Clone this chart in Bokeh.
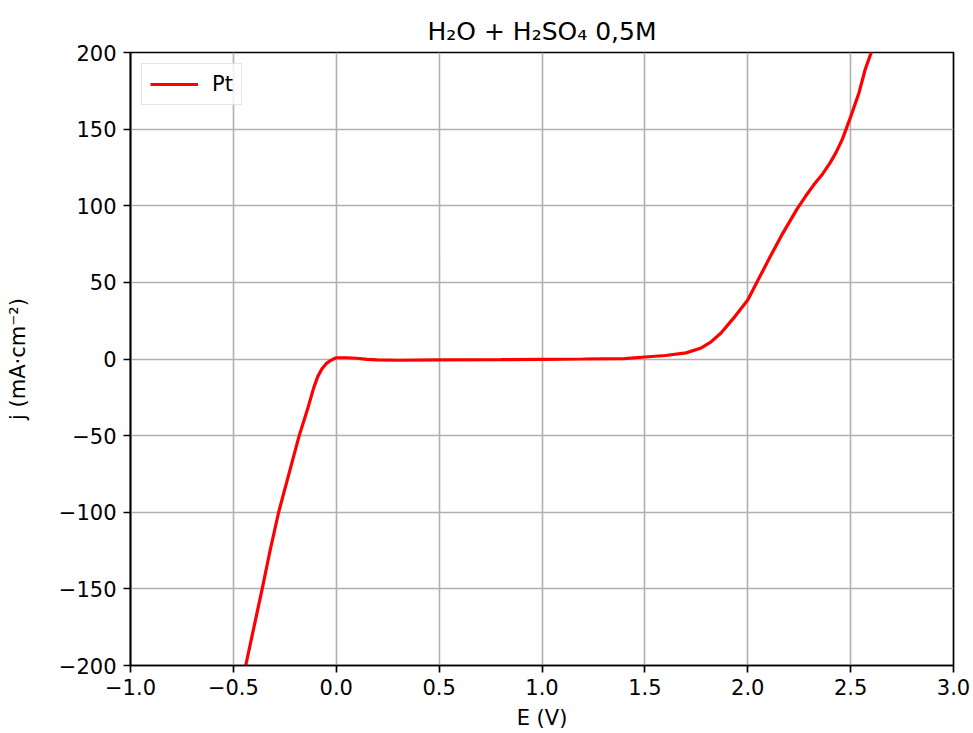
from bokeh.plotting import figure
from bokeh.models import FixedTicker, Range1d, Legend, LegendItem, Title
from bokeh.embed import file_html
from bokeh.resources import INLINE

# Data (E in V, j in mA·cm^-2)
E = [-0.46, -0.44, -0.40, -0.36, -0.32, -0.28, -0.23, -0.18, -0.14, -0.11, -0.09,
     -0.07, -0.05, -0.03, -0.01, 0.0, 0.05, 0.1, 0.15, 0.2, 0.3, 0.5, 0.8, 1.0, 1.2, 1.4, 1.5,
     1.6, 1.7, 1.77, 1.82, 1.87, 1.93, 2.0, 2.05, 2.11, 2.17, 2.24, 2.28, 2.32, 2.36, 2.40,
     2.43, 2.46, 2.50, 2.54, 2.57, 2.60, 2.62]
J = [-215, -200, -175, -150, -124, -100, -75, -50, -33, -19, -11.5,
     -6.5, -3.2, -1.2, 0.2, 0.8, 0.8, 0.5, -0.2, -0.6, -0.8, -0.6, -0.4, -0.2, 0.0, 0.3, 1.3,
     2.3, 4.0, 7.0, 11.0, 17.0, 26.5, 38.5, 51.5, 67.0, 82.0, 98.0, 106.0, 113.5, 120.0, 128.0,
     135.0, 143.5, 158.0, 173.4, 188.6, 200.0, 212.0]

x_ticks = [-1.0, -0.5, 0.0, 0.5, 1.0, 1.5, 2.0, 2.5, 3.0]
x_tick_labels = ["\u22121.0", "\u22120.5", "0.0", "0.5", "1.0", "1.5", "2.0", "2.5", "3.0"]
y_ticks = [-200, -150, -100, -50, 0, 50, 100, 150, 200]
y_tick_labels = ["\u2212200", "\u2212150", "\u2212100", "\u221250", "0", "50", "100", "150", "200"]

title_text = "H\u2082O + H\u2082SO\u2084 0,5M"
x_label = "E (V)"
y_label = "j (mA\u00b7cm\u207b\u00b2)"
series_label = "Pt"

FONT = "DejaVu Sans"

p = figure(width=973, height=733, output_backend="svg", toolbar_location=None,
           x_range=Range1d(-1.0, 3.0), y_range=Range1d(-200, 200),
           min_border_left=130, min_border_right=20, min_border_top=52, min_border_bottom=68)

p.title = Title(text=title_text, align="center", text_font=FONT, text_font_size="25px",
                text_font_style="normal", text_color="black", standoff=13)

p.outline_line_color = "black"
p.outline_line_width = 1.7
p.background_fill_color = "white"
p.border_fill_color = "white"

for ax, ticks, labels, lab in ((p.xaxis[0], x_ticks, x_tick_labels, x_label),
                               (p.yaxis[0], y_ticks, y_tick_labels, y_label)):
    ax.ticker = FixedTicker(ticks=ticks)
    ax.major_label_overrides = {t: l for t, l in zip(ticks, labels)}
    ax.axis_label = lab
    ax.axis_label_text_font = FONT
    ax.axis_label_text_font_size = "21px"
    ax.axis_label_text_font_style = "normal"
    ax.axis_label_text_color = "black"
    ax.major_label_text_font = FONT
    ax.major_label_text_font_size = "21px"
    ax.major_label_text_color = "black"
    ax.axis_line_color = "black"
    ax.axis_line_width = 1.7
    ax.major_tick_line_width = 1.7
    ax.major_tick_line_color = "black"
    ax.major_tick_in = 0
    ax.major_tick_out = 7
    ax.minor_tick_line_color = None

p.xaxis[0].axis_label_standoff = 8
p.xaxis[0].major_label_standoff = 6
p.yaxis[0].axis_label_standoff = 26
p.yaxis[0].major_label_standoff = 7

for g in (p.xgrid[0], p.ygrid[0]):
    g.grid_line_color = "#b0b0b0"
    g.grid_line_width = 1.6

r = p.line(E, J, line_color="red", line_width=3.2)

legend = Legend(items=[LegendItem(label=series_label, renderers=[r])], location="top_left",
                label_text_font=FONT, label_text_font_size="21px", label_text_color="black",
                border_line_color="#cccccc", border_line_width=1.5,
                background_fill_alpha=0.8, glyph_width=48, glyph_height=20,
                padding=8, margin=11, spacing=0, label_standoff=14)
p.add_layout(legend)

open("out.html", "w").write(file_html(p, INLINE))
